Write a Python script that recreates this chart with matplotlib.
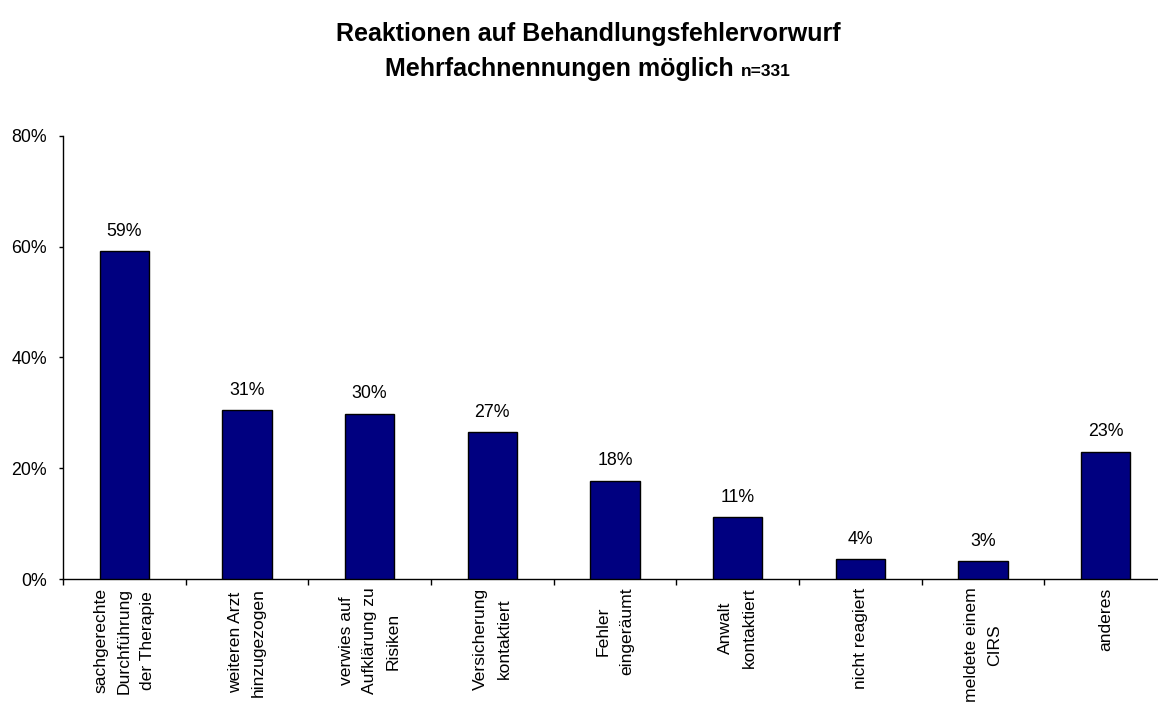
import matplotlib
matplotlib.use("Agg")
import matplotlib.pyplot as plt
from matplotlib.ticker import FixedLocator, FuncFormatter

plt.rcParams['font.family'] = ['Liberation Sans', 'DejaVu Sans']

categories = [
    "sachgerechte\nDurchführung\nder Therapie",
    "weiteren Arzt\nhinzugezogen",
    "verwies auf\nAufklärung zu\nRisiken",
    "Versicherung\nkontaktiert",
    "Fehler\neingeräumt",
    "Anwalt\nkontaktiert",
    "nicht reagiert",
    "meldete einem\nCIRS",
    "anderes",
]
values = [59.2, 30.5, 29.9, 26.6, 17.8, 11.2, 3.6, 3.3, 23.0]
value_labels = ["59%", "31%", "30%", "27%", "18%", "11%", "4%", "3%", "23%"]
y_ticks = [0, 20, 40, 60, 80]

title_line1 = "Reaktionen auf Behandlungsfehlervorwurf"
title_line2 = "Mehrfachnennungen möglich "
title_n = "n=331"

W, H = 1158, 705
fig = plt.figure(figsize=(W / 100, H / 100), dpi=100)
left_px, right_px, bottom_px, top_px = 63, 1167, 579.3, 135.7
ax = fig.add_axes([left_px / W, (H - bottom_px) / H,
                   (right_px - left_px) / W, (bottom_px - top_px) / H])

x = list(range(len(categories)))
ax.bar(x, values, width=0.4, color="#000080", edgecolor="black", linewidth=1.0, zorder=3)

for xi, v, lab in zip(x, values, value_labels):
    ax.annotate(lab, (xi, v), xytext=(0, 11), textcoords="offset points",
                ha="center", va="baseline", fontsize=12.8)

ax.set_xlim(-0.5, len(categories) - 0.5)
ax.set_ylim(0, 80)
ax.yaxis.set_major_locator(FixedLocator(y_ticks))
ax.yaxis.set_major_formatter(FuncFormatter(lambda v, p: f"{v:.0f}%"))
ax.tick_params(axis="y", direction="out", length=3, width=1, labelsize=12.8, pad=8.5)

ax.set_xticks(x)
ax.set_xticklabels(categories, rotation=90, ha="center", va="top",
                   multialignment="center", fontsize=12.6, linespacing=1.7)
ax.tick_params(axis="x", which="major", length=0, pad=6)
ax.set_xticks([i - 0.5 for i in range(len(categories) + 1)], minor=True)
ax.tick_params(axis="x", which="minor", direction="out", length=4, width=1)

for s in ["top", "right"]:
    ax.spines[s].set_visible(False)
for s in ["left", "bottom"]:
    ax.spines[s].set_linewidth(1.0)
    ax.spines[s].set_color("black")

center_x = 588
fig.text(center_x / W, 1 - 41 / H, title_line1, ha="center", va="baseline",
         fontsize=18, fontweight="bold")

# second title line with smaller n
t_main = fig.text(0, 0, title_line2, ha="left", va="baseline", fontsize=18, fontweight="bold")
t_n = fig.text(0, 0, title_n, ha="left", va="baseline", fontsize=12.5, fontweight="bold")
fig.canvas.draw()
r = fig.canvas.get_renderer()
w1 = t_main.get_window_extent(r).width
w2 = t_n.get_window_extent(r).width
total = w1 + w2
x0 = center_x - total / 2
base_y = 1 - 76 / H
t_main.set_position((x0 / W, base_y))
t_n.set_position(((x0 + w1) / W, base_y))

fig.savefig("out.png", dpi=100)
